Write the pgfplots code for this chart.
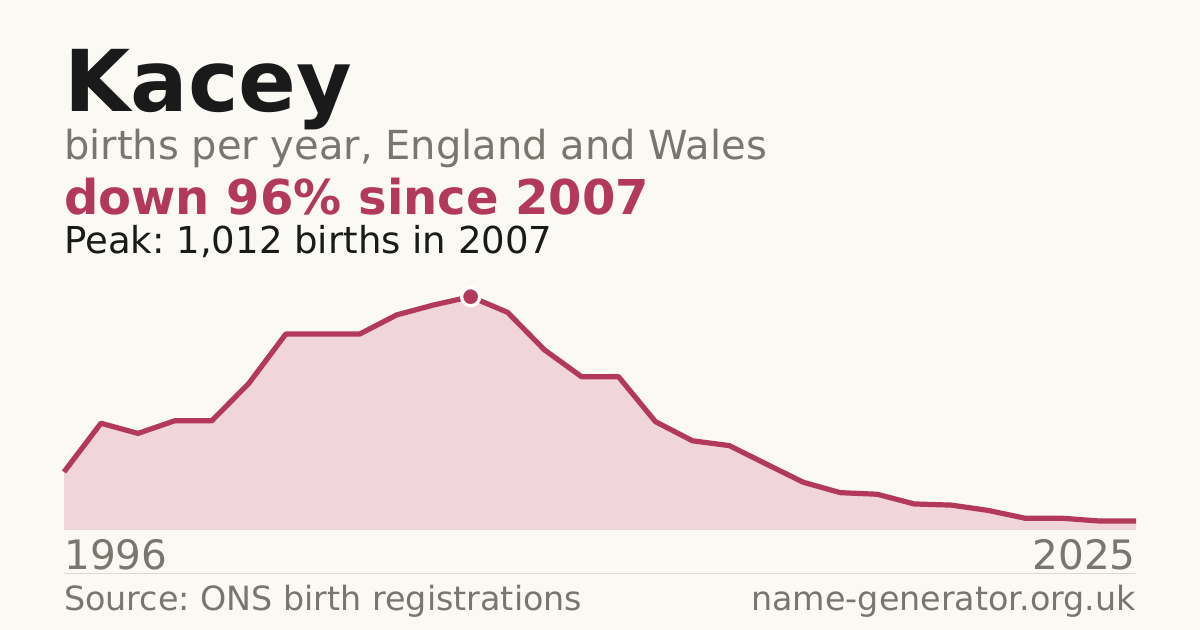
\documentclass[border=0pt]{standalone}
\usepackage{pgfplots}
\usepackage{pgfplotstable}
\pgfplotsset{compat=1.18}
\usepackage{fontspec}
\setmainfont{DejaVu Sans}
\frenchspacing

\definecolor{bgc}{HTML}{FAF9F4}
\definecolor{inkc}{HTML}{1A1A1A}
\definecolor{greyc}{HTML}{7A756D}
\definecolor{accent}{HTML}{B3395A}
\definecolor{areac}{HTML}{F0D5DB}
\definecolor{rulec}{HTML}{DDD9D0}

% births per year
\pgfplotstableread{
year births
1996 252
1997 463
1998 419
1999 474
2000 474
2001 636
2002 850
2003 850
2004 850
2005 933
2006 976
2007 1012
2008 944
2009 781
2010 665
2011 665
2012 470
2013 387
2014 366
2015 286
2016 207
2017 162
2018 155
2019 113
2020 108
2021 85
2022 51
2023 51
2024 39
2025 39
}\births

\newcommand\fs[1]{\fontsize{#1}{#1}\selectfont}

\begin{document}
\begin{tikzpicture}
\begin{scope}[x=0.75pt,y=-0.75pt]
  \fill[bgc] (0,0) rectangle (1200,630);
  \node[anchor=base west,inner sep=0,text=inkc,font=\fs{64pt}\bfseries] at (64,111.7) {Kacey};
  \node[anchor=base west,inner sep=0,text=greyc,font=\fs{30pt}] at (64,160) {births per year, England and Wales};
  \node[anchor=base west,inner sep=0,text=accent,font=\fs{36pt}\bfseries] at (64,214.3) {down 96\% since 2007};
  \node[anchor=base west,inner sep=0,text=inkc,font=\fs{27.8pt}] at (64,253.3) {Peak: 1,012 births in 2007};
  \node[anchor=base west,inner sep=0,text=greyc,font=\fs{30.4pt}] at (64,570) {1996};
  \node[anchor=base east,inner sep=0,text=greyc,font=\fs{30.4pt}] at (1136,570) {2025};
  \draw[rulec,line width=0.75pt] (64,574) -- (1136,574);
  \node[anchor=base west,inner sep=0,text=greyc,font=\fs{25pt}] at (64,610) {Source: ONS birth registrations};
  \node[anchor=base east,inner sep=0,text=greyc,font=\fs{25pt}] at (1136,610) {name-generator.org.uk};
\end{scope}
\begin{axis}[
    at={(48pt,-397.5pt)},
    anchor=south west,
    width=804pt,
    height=187.5pt,
    scale only axis,
    hide axis,
    clip=false,
    xmin=1996, xmax=2025,
    ymin=0, ymax=1084.4,
  ]
  \addplot[fill=areac,draw=none] table[x=year,y=births] {\births} \closedcycle;
  \addplot[accent,line width=3.9pt,line join=round,mark=none] table[x=year,y=births] {\births};
  \addplot[only marks,mark=*,mark size=6.8pt,
    mark options={fill=accent,draw=white,line width=2.4pt}]
    coordinates {(2007,1012)};
\end{axis}
\end{tikzpicture}
\end{document}
